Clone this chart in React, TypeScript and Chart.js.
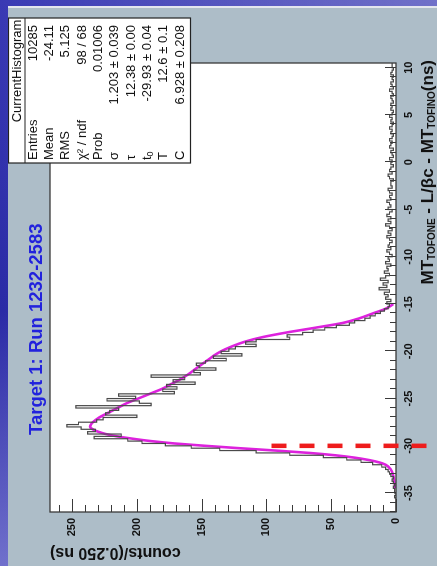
import React, { useEffect, useRef } from 'react';
import { Chart, registerables } from 'chart.js';

Chart.register(...registerables);

// ---------------- data ----------------
const BIN_START = -37;
const BIN_WIDTH = 0.25;
// counts per 0.25 ns bin, from -37 ns upward
const histCounts = [
  0, 0, 0, 0, 0, 0,
  0, 1, 0, 1,
  1, 2, 1, 2, 3, 2, 4, 5,
  6, 8,
  11, 18, 27, 38,
  56, 82, 108, 136,
  158, 178, 196, 207,
  233, 212, 238, 232,
  243, 254, 245, 231,
  226, 200, 224, 221,
  214, 247, 189, 198,
  223, 201, 214, 171,
  180, 169, 177, 155,
  172, 163, 189, 151,
  156, 139, 152, 154,
  147, 131, 141, 119,
  135, 129, 124, 108,
  116, 108, 82, 84,
  72, 64, 55, 46,
  36, 32, 24, 20,
  16, 12, 9, 6,
  5, 7, 4, 8,
  6, 9, 5, 13,
  7, 10, 6, 12,
  8, 5, 9, 6,
  7, 4, 8, 5,
  6, 3, 5, 7,
  4, 6, 5, 3,
  5, 7, 4, 6,
  3, 5, 8, 4,
  6, 4, 7, 5,
  3, 6, 4, 5,
  7, 4, 5, 3,
  5, 6, 3, 4,
  4, 2, 5, 6,
  3, 5, 4, 2,
  4, 3, 5, 2,
  3, 4, 2, 5,
  4, 3, 5, 3,
  2, 4, 3, 5,
  3, 2, 4, 3,
  5, 3, 2, 4,
  3, 4, 2, 3,
  4, 2, 3, 5,
  2, 3, 4, 2,
  3, 2, 4, 3,
  2, 3,
];

// fitted curve
const fitTimes = [-34.5, -34, -33.5, -33, -32.5, -32, -31.75, -31.5, -31.25, -31, -30.75, -30.5, -30.25, -30, -29.75, -29.5, -29.25, -29, -28.75, -28.5, -28.25, -28, -27.75, -27.5, -27, -26.5, -26, -25.5, -25, -24.5, -24, -23.5, -23, -22.5, -22, -21.5, -21, -20.5, -20, -19.5, -19, -18.5, -18, -17.5, -17, -16.5, -16, -15.5, -15];
const fitCounts = [0.5, 1, 1.5, 2.5, 4, 8, 13, 21, 32, 47, 67, 93, 121, 147, 171, 189, 203, 215, 224, 230, 234, 236, 235.5, 234, 229, 222, 215, 208, 199, 190, 181, 174, 167, 161, 156, 151, 146, 141, 135, 127, 117, 103, 84, 62, 41, 28, 18, 8, 2];

const timeTicks = [-35, -30, -25, -20, -15, -10, -5, 0, 5, 10];
const countTicks = [0, 50, 100, 150, 200, 250];

const statsTitle = 'CurrentHistogram';
const statsLabels = ['Entries', 'Mean', 'RMS', 'χ² / ndf', 'Prob', 'σ', 'τ', 't0', 'T', 'C'];
const statsValues = ['10285', '-24.11', '5.125', '98 / 68', '0.01006', '1.203 ± 0.039', '12.38 ± 0.00', '-29.93 ± 0.04', '12.6 ± 0.1', '6.928 ± 0.208'];

const plotTitle = 'Target 1: Run 1232-2583';
const yTitle = 'counts/(0.250 ns)';
const xTitleParts: [string, boolean][] = [
  ['MT', false], ['TOFONE', true], [' - L/βc - MT', false], ['TOFINO', true], ['(ns)', false],
];

const cutTime = -30;
const cutTop = 96;

// ---------------- layout ----------------
const W = 558;
const H = 429;
const FONT = '"Liberation Sans", Arial, Helvetica, sans-serif';

export default function App() {
  const ref = useRef<HTMLCanvasElement | null>(null);

  useEffect(() => {
    if (!ref.current) return;
    const histPts = histCounts.map((c, i) => ({ x: BIN_START + i * BIN_WIDTH, y: c }));
    histPts.push({ x: BIN_START + histCounts.length * BIN_WIDTH, y: histCounts[histCounts.length - 1] });
    const fitPts = fitTimes.map((t, i) => ({ x: t, y: fitCounts[i] }));

    const decor = {
      id: 'rootDecor',
      beforeDraw(chart: any) {
        const { ctx, chartArea: a } = chart;
        ctx.save();
        ctx.fillStyle = '#adbdc8';
        ctx.fillRect(0, 0, W, H);
        ctx.fillStyle = '#ffffff';
        ctx.fillRect(a.left, a.top, a.right - a.left, a.bottom - a.top);
        ctx.restore();
      },
      afterDatasetsDraw(chart: any) {
        const { ctx, chartArea: a, scales } = chart;
        const xs = scales.x;
        const ys = scales.y;
        ctx.save();
        ctx.strokeStyle = '#3a3a3a';
        ctx.lineWidth = 1.3;
        ctx.strokeRect(a.left, a.top, a.right - a.left, a.bottom - a.top);
        ctx.lineWidth = 1;
        ctx.beginPath();
        for (let t = -37; t <= 10; t++) {
          const px = Math.round(xs.getPixelForValue(t)) + 0.5;
          const len = t % 5 === 0 ? 11 : 6;
          ctx.moveTo(px, a.bottom);
          ctx.lineTo(px, a.bottom - len);
        }
        for (let c = 0; c <= 260; c += 10) {
          const py = Math.round(ys.getPixelForValue(c)) + 0.5;
          const len = c % 50 === 0 ? 13 : 7;
          ctx.moveTo(a.left, py);
          ctx.lineTo(a.left + len, py);
        }
        ctx.stroke();
        ctx.restore();
      },
      afterDraw(chart: any) {
        const { ctx, chartArea: a, scales } = chart;
        const xs = scales.x;
        const ys = scales.y;
        ctx.save();
        // plot title
        ctx.fillStyle = '#2222dd';
        ctx.font = `bold 18.5px ${FONT}`;
        ctx.textAlign = 'left';
        ctx.textBaseline = 'alphabetic';
        ctx.fillText(plotTitle, 131, 34);

        // y title (rotated)
        ctx.save();
        ctx.fillStyle = '#111';
        ctx.font = `bold 16px ${FONT}`;
        ctx.translate(14, a.top);
        ctx.rotate(-Math.PI / 2);
        ctx.textAlign = 'right';
        ctx.textBaseline = 'middle';
        ctx.fillText(yTitle, 0, 0);
        ctx.restore();

        // x title with subscripts
        const mainFont = `bold 17px ${FONT}`;
        const subFont = `bold 10px ${FONT}`;
        let total = 0;
        xTitleParts.forEach(([s, sub]) => {
          ctx.font = sub ? subFont : mainFont;
          total += ctx.measureText(s).width;
        });
        let ux = a.right + 3 - total;
        ctx.fillStyle = '#111';
        ctx.textAlign = 'left';
        ctx.textBaseline = 'alphabetic';
        xTitleParts.forEach(([s, sub]) => {
          ctx.font = sub ? subFont : mainFont;
          ctx.fillText(s, ux, sub ? 427 : 425);
          ux += ctx.measureText(s).width;
        });

        // stats box
        const bx = 403, by = 0.5, bw = 145, bh = 182;
        ctx.fillStyle = '#ffffff';
        ctx.fillRect(bx, by, bw, bh);
        ctx.strokeStyle = '#222';
        ctx.lineWidth = 1.2;
        ctx.strokeRect(bx, by, bw, bh);
        ctx.beginPath();
        ctx.moveTo(bx, 17);
        ctx.lineTo(bx + bw, 17);
        ctx.stroke();
        ctx.fillStyle = '#111';
        ctx.font = `13px ${FONT}`;
        ctx.textAlign = 'center';
        ctx.textBaseline = 'middle';
        ctx.fillText(statsTitle, 495, 9.5);
        statsLabels.forEach((lab, k) => {
          const cy = 25 + k * 16.35;
          ctx.font = `13px ${FONT}`;
          ctx.textAlign = 'left';
          if (lab === 't0') {
            ctx.fillText('t', 406, cy);
            const tw = ctx.measureText('t').width;
            ctx.font = `9px ${FONT}`;
            ctx.fillText('0', 406 + tw, cy + 3);
            ctx.font = `13px ${FONT}`;
          } else {
            ctx.fillText(lab, 406, cy);
          }
          ctx.textAlign = 'right';
          ctx.fillText(statsValues[k], 541, cy);
        });

        // red dashed cut line
        const cx = xs.getPixelForValue(cutTime);
        ctx.strokeStyle = '#ee1c1c';
        ctx.lineWidth = 4.5;
        ctx.setLineDash([15, 13]);
        ctx.beginPath();
        ctx.moveTo(cx, ys.getPixelForValue(cutTop));
        ctx.lineTo(cx, 421);
        ctx.stroke();
        ctx.restore();
      },
    };

    const tickFont = { family: FONT, size: 11, weight: 'bold' as const };

    const chart = new Chart(ref.current, {
      type: 'line',
      data: {
        datasets: [
          {
            label: 'histogram',
            data: histPts,
            stepped: 'after',
            borderColor: '#4a4a4a',
            borderWidth: 1.2,
            pointRadius: 0,
            fill: false,
          },
          {
            label: 'fit',
            data: fitPts,
            borderColor: '#dd22dd',
            borderWidth: 2.6,
            pointRadius: 0,
            tension: 0.4,
            cubicInterpolationMode: 'monotone',
            fill: false,
          },
        ],
      },
      options: {
        responsive: false,
        animation: false,
        devicePixelRatio: 1,
        layout: { padding: { left: 0, top: 42, right: 55, bottom: 0 } },
        plugins: { legend: { display: false }, tooltip: { enabled: false } },
        events: [],
        scales: {
          x: {
            type: 'linear',
            min: -37,
            max: 10.5,
            grid: { display: false, drawTicks: false },
            border: { display: false },
            ticks: {
              font: tickFont,
              color: '#111',
              padding: 6,
              maxRotation: 0,
              autoSkip: false,
              callback: (v: any) => String(v),
            },
            afterBuildTicks: (s: any) => {
              s.ticks = timeTicks.map((v) => ({ value: v }));
            },
            afterFit: (s: any) => {
              s.height = 41;
            },
          },
          y: {
            type: 'linear',
            min: 0,
            max: 267,
            grid: { display: false, drawTicks: false },
            border: { display: false },
            ticks: {
              font: tickFont,
              color: '#111',
              padding: 6,
              autoSkip: false,
              callback: (v: any) => String(v),
            },
            afterBuildTicks: (s: any) => {
              s.ticks = countTicks.map((v) => ({ value: v }));
            },
            afterFit: (s: any) => {
              s.width = 54;
            },
          },
        },
      } as any,
      plugins: [decor],
    });
    return () => chart.destroy();
  }, []);

  return (
    <div
      style={{
        position: 'fixed',
        left: 0,
        top: 0,
        width: 437,
        height: 566,
        overflow: 'hidden',
        background:
          'linear-gradient(90deg, rgba(255,255,255,0) 0%, rgba(255,255,255,0.28) 100%), linear-gradient(180deg, #3a3ab4 0%, #2a2aa6 55%, #7070cc 100%)',
      }}
    >
      <div style={{ position: 'absolute', left: 8, top: 6, width: 429, height: 2, background: '#e4e6ee' }} />
      <canvas
        ref={ref}
        width={W}
        height={H}
        style={{
          position: 'absolute',
          left: 0,
          top: 0,
          width: W,
          height: H,
          transformOrigin: '0 0',
          transform: 'translate(8px, 566px) rotate(-90deg)',
        }}
      />
    </div>
  );
}
